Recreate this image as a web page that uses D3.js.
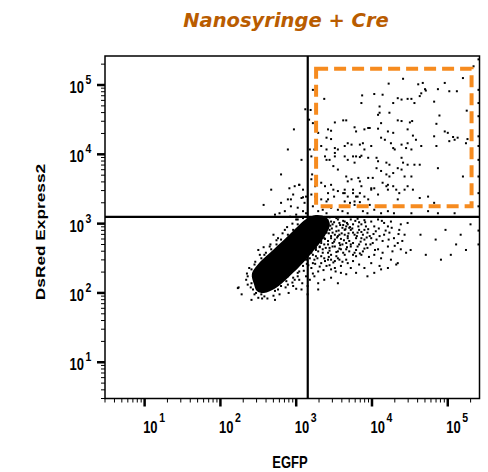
<!DOCTYPE html>
<html><head><meta charset="utf-8">
<script src="https://cdn.jsdelivr.net/npm/d3@7"></script>
<style>body{margin:0;background:#fff;} svg{display:block;}</style>
</head><body>
<svg id="chart" width="488" height="472"></svg>
<script>
// ---------------- data ----------------
const titleText = "Nanosyringe + Cre";
const xLabel = "EGFP";
const yLabel = "DsRed Express2";
const axisDomain = [3, 262144];
const decadeExponents = [1, 2, 3, 4, 5];
const quadGateX = 1420;            // EGFP threshold
const quadGateY = 1250;            // DsRed threshold
const gateBoxX = [1830, 206000];   // orange gate, EGFP range
const gateBoxY = [1780, 172000];   // orange gate, DsRed range

// cells, as [log10 EGFP, log10 DsRed]
const gateCellsLog10 = [
[4.22,5.02],[4.41,5.09],[4.61,5.01],[4.67,5.03],[4.70,4.94],[4.71,4.92],[4.87,4.94],[5.02,4.91],[5.12,4.91],[5.20,5.10],
[5.25,4.63],[3.87,4.85],[3.86,4.74],[4.03,4.87],[4.14,4.86],[4.10,4.69],[3.37,4.80],[4.28,4.74],[4.34,4.81],[4.39,4.79],
[4.47,4.80],[4.52,4.80],[4.56,4.74],[4.63,4.84],[4.65,4.88],[4.82,4.76],[4.96,5.03],[4.10,4.60],[4.08,4.57],[4.23,4.60],
[4.12,4.45],[4.34,4.49],[4.39,4.48],[4.50,4.46],[4.53,4.48],[4.85,4.44],[4.89,4.56],[3.51,4.46],[3.46,4.34],[3.42,4.36],
[3.62,4.49],[3.66,4.49],[3.77,4.39],[3.79,4.33],[3.90,4.36],[3.95,4.38],[3.97,4.38],[4.08,4.37],[4.21,4.33],[4.28,4.31],
[4.47,4.36],[4.54,4.27],[4.58,4.21],[4.96,4.33],[5.00,4.31],[5.07,4.25],[5.13,4.24],[5.26,4.22],[5.24,4.16],[3.40,4.24],
[3.46,4.22],[3.33,4.12],[3.40,4.07],[3.51,4.09],[3.51,4.02],[3.51,3.97],[3.55,4.07],[3.64,4.12],[3.68,4.16],[3.73,4.14],
[3.84,4.14],[3.88,4.16],[3.90,4.07],[3.99,4.12],[4.12,4.24],[4.17,4.21],[4.25,4.16],[4.28,4.09],[4.30,4.07],[4.39,4.14],
[4.47,4.16],[4.45,4.09],[4.52,4.07],[4.65,4.12],[4.82,4.26],[4.85,4.12],[5.02,4.19],[5.09,4.21],[3.38,3.97],[3.40,3.92],
[3.44,3.92],[3.64,3.97],[3.68,3.92],[3.75,3.97],[3.77,3.88],[3.79,3.97],[3.84,3.96],[3.86,3.98],[3.95,3.95],[4.06,3.95],
[4.08,3.90],[4.19,3.88],[4.23,3.85],[4.39,3.95],[4.41,3.88],[4.47,3.85],[4.56,3.85],[4.63,3.85],[4.87,3.80],[5.20,3.68],
[3.49,3.83],[3.55,3.78],[3.66,3.68],[3.73,3.64],[3.82,3.66],[3.84,3.61],[3.95,3.66],[4.01,3.66],[4.06,3.80],[4.12,3.76],
[4.19,3.71],[4.23,3.68],[4.28,3.73],[4.34,3.80],[4.39,3.78],[4.43,3.68],[4.52,3.68],[3.33,3.59],[3.38,3.54],[3.42,3.44],
[3.49,3.49],[3.55,3.47],[3.62,3.44],[3.64,3.49],[3.68,3.39],[3.75,3.44],[3.79,3.39],[3.84,3.44],[3.90,3.39],[3.95,3.35],
[3.99,3.49],[4.03,3.51],[4.14,3.59],[4.19,3.54],[4.21,3.56],[4.28,3.54],[4.32,3.49],[4.36,3.44],[4.43,3.49],[4.47,3.54],
[4.54,3.49],[4.63,3.37],[4.74,3.39],[4.82,3.30],[3.33,3.35],[3.40,3.32],[3.64,3.32],[3.71,3.30],[3.77,3.27],[3.84,3.31],
[3.97,3.27],[4.52,3.15],[4.74,3.18],[4.87,3.15],[5.09,3.15],[3.25,3.54],[3.25,3.39],[3.27,3.68],[3.20,3.64],[3.24,4.07],
[3.20,3.97],[3.19,4.64],[3.22,4.45],[3.29,4.31],[5.34,5.27]
];

const nearLineCellsLog10 = [
[2.91,3.51],[2.96,3.42],[2.98,3.54],[3.04,3.56],[3.09,3.49],[3.07,3.37],[3.11,3.30],[3.02,3.23],[2.93,3.25],[2.85,3.18],
[2.78,3.15],[2.72,3.13],[3.00,3.13],[3.09,3.18],[3.13,3.15],[2.89,3.35],[2.80,3.30],[3.13,3.39],[3.22,3.25],[3.29,3.18],
[3.35,3.20],[3.40,3.15],[3.46,3.23],[3.55,3.20],[3.61,3.18],[3.68,3.15],[3.42,3.35],[3.50,3.39],[3.64,3.44],[3.75,3.49],
[3.77,3.32],[3.81,3.39],[3.88,3.18],[3.94,3.15],[4.03,3.20],[4.12,3.15],[4.21,3.18],[4.29,3.15],[4.34,3.35],[3.99,3.51],
[3.86,3.54],[4.08,3.42],[4.21,3.49],[3.68,3.61],[3.46,3.56],[2.89,4.07],[2.97,4.36],[2.80,3.71],[3.04,3.56],[2.67,3.49],
[3.07,3.92],[3.12,4.65],[2.93,3.35],[2.57,3.27],[3.09,3.38],[3.18,4.07],[3.21,3.71],[3.17,4.50],[3.22,4.93],[3.20,3.42]
];

const tailCellsLog10 = [
[3.29,3.06],[3.37,3.07],[3.46,3.03],[3.55,3.06],[3.64,3.03],[3.72,3.06],[3.81,3.07],[3.90,3.05],[3.99,3.03],[4.08,3.06],
[4.16,3.01],[4.25,3.03],[4.38,2.99],[4.47,3.01],[3.68,2.99],[3.86,2.99],[4.03,2.96],[4.21,2.96],[3.26,2.91],[3.33,2.87],
[3.42,2.94],[3.46,2.82],[3.53,2.89],[3.57,2.84],[3.64,2.91],[3.68,2.82],[3.75,2.87],[3.79,2.79],[3.83,2.91],[3.88,2.84],
[3.94,2.87],[3.99,2.79],[4.05,2.89],[4.10,2.82],[4.16,2.84],[4.23,2.87],[4.29,2.79],[4.36,2.91],[4.43,2.84],[3.37,2.79],
[3.51,2.77],[3.59,2.78],[3.70,2.94],[3.90,2.77],[4.14,2.75],[4.34,2.72],[3.24,2.72],[3.31,2.67],[3.37,2.70],[3.44,2.65],
[3.51,2.67],[3.55,2.60],[3.61,2.70],[3.66,2.63],[3.72,2.67],[3.77,2.58],[3.83,2.70],[3.88,2.60],[3.94,2.65],[4.01,2.72],
[4.08,2.63],[4.14,2.58],[4.21,2.67],[4.27,2.60],[3.79,2.53],[3.64,2.55],[3.46,2.55],[3.29,2.60],[4.03,2.55],[4.38,2.63],
[4.45,2.58],[3.24,2.48],[3.33,2.43],[3.42,2.48],[3.51,2.46],[3.59,2.39],[3.68,2.43],[3.75,2.46],[3.83,2.41],[3.90,2.36],
[3.99,2.43],[4.10,2.39],[4.21,2.36],[3.29,2.31],[3.46,2.34],[3.66,2.27],[3.94,2.24],[3.37,2.19],[3.55,2.14],[3.79,2.29],
[4.03,2.29],[4.34,2.43],[4.64,2.84],[4.84,2.77],[4.97,2.91],[5.11,2.70],[5.24,2.62],[5.30,2.99],[4.91,2.48],[4.51,2.62],
[4.71,2.55],[5.17,2.84],[4.32,2.41],[4.12,2.34],[5.04,2.55],
[3.22,3.03],[3.31,3.01],[3.40,3.02],[3.48,2.99],[3.57,3.01],[3.66,2.96],[3.75,2.99],[3.83,3.02],[3.92,2.96],[3.26,2.96],
[3.35,2.96],[3.44,2.91],[3.53,2.96],[3.61,2.94],[3.72,2.91],[3.81,2.87],[3.90,2.91],[3.22,2.84],[3.30,2.82],[3.40,2.87],
[3.48,2.87],[3.55,2.82],[3.64,2.84],[3.70,2.75],[3.77,2.84],[3.86,2.79],[3.97,2.82],[3.24,2.77],[3.33,2.75],[3.42,2.75],
[3.48,2.72],[3.57,2.72],[3.66,2.72],[3.75,2.72],[3.81,2.67],[3.92,2.70],[3.26,2.65],[3.35,2.63],[3.42,2.58],[3.53,2.53],
[3.59,2.63],[3.70,2.60],[3.75,2.55],[3.86,2.55],[3.20,2.58],[3.26,2.53],[3.37,2.50],[3.46,2.48],[3.57,2.48],[3.66,2.48],
[3.40,2.39],[3.51,2.36],[3.59,2.29],[3.72,2.36]
];

const tailDenseCellsLog10 = [
[3.20,3.05],[3.25,3.00],[3.28,3.08],[3.32,3.04],[3.36,2.98],[3.41,3.05],[3.45,2.97],[3.50,3.02],[3.53,3.08],[3.58,2.98],
[3.62,3.04],[3.67,3.01],[3.71,2.95],[3.19,2.93],[3.23,2.88],[3.28,2.95],[3.31,2.90],[3.35,2.85],[3.39,2.92],[3.43,2.86],
[3.47,2.93],[3.51,2.84],[3.56,2.90],[3.60,2.86],[3.65,2.92],[3.69,2.86],[3.74,2.93],[3.20,2.80],[3.25,2.76],[3.29,2.82],
[3.33,2.72],[3.38,2.78],[3.42,2.70],[3.46,2.79],[3.50,2.74],[3.54,2.80],[3.58,2.69],[3.63,2.76],[3.68,2.79],[3.72,2.70],
[3.21,2.68],[3.26,2.62],[3.31,2.66],[3.35,2.58],[3.39,2.65],[3.44,2.61],[3.48,2.67],[3.53,2.59],[3.57,2.64],[3.62,2.58],
[3.67,2.66],[3.22,2.55],[3.28,2.50],[3.33,2.53],[3.38,2.46],[3.43,2.52],[3.49,2.44],[3.55,2.50],[3.61,2.45],[3.25,2.42],
[3.31,2.38],[3.36,2.33],[3.44,2.40],[3.52,2.31],[3.78,3.04],[3.82,2.96],[3.86,2.88],[3.91,3.02],[3.95,2.92],[3.80,2.82],
[3.85,2.74],[3.93,2.80],[3.98,2.70],[4.02,2.85],[4.06,2.77],[3.79,2.62],[3.84,2.57],[3.90,2.64],[3.96,2.52],[4.04,2.62],
[4.09,2.93],[4.13,3.04],[4.18,2.90],[4.22,2.77],[4.26,2.94],[4.30,2.68],[4.35,2.85],[4.40,2.75],[4.12,2.50],[4.25,2.48],
[3.17,2.88],[3.18,2.76],[3.17,2.64],[3.18,2.50],[3.16,2.40],[3.24,3.09],[3.34,3.09],[3.44,3.09],[3.56,3.09],[3.62,2.98]
];

const haloCellsLog10 = [
[2.23,2.07],[2.36,2.24],[2.41,2.14],[2.43,2.05],[2.47,2.00],[2.54,1.98],[2.58,1.95],[2.61,2.05],[2.72,2.03],[2.80,2.10],
[2.89,2.12],[2.98,2.19],[3.02,2.29],[3.09,2.39],[3.13,2.48],[3.20,2.36],[3.24,2.24],[3.29,2.14],[3.15,2.10],[3.07,2.05],
[2.89,2.24],[2.76,2.19],[2.41,2.34],[2.45,2.41],[2.54,2.50],[2.58,2.55],[2.67,2.63],[2.74,2.70],[2.80,2.77],[2.89,2.84],
[2.96,2.91],[3.02,2.99],[2.76,2.79],[2.65,2.67],[2.85,2.91],[3.00,3.06],[3.09,3.08],[2.76,2.05],[2.87,2.17],[2.96,2.22],
[3.04,2.31],[3.13,2.24],[3.22,2.43],[3.18,2.19],[3.04,2.19],[2.96,2.10],[3.29,2.05],[3.46,2.22],[3.15,1.98],[2.72,1.90],
[2.50,1.93],[2.34,2.19],[2.28,1.98],[2.36,2.12],[2.41,1.90],[2.24,2.08],
[2.38,2.36],[2.46,2.45],[2.52,2.55],[2.60,2.58],[2.66,2.70],[2.74,2.76],[2.82,2.86],[2.88,2.95],[2.95,3.00],[3.02,3.06],
[2.50,2.62],[2.70,2.84],[2.92,3.10],[2.35,2.28],[2.57,2.66],[2.62,1.92],[2.78,1.98],[2.86,2.08],[2.95,2.15],[3.02,2.24],
[3.10,2.32],[3.14,2.42],[2.70,1.96],[2.90,2.00],[3.08,2.14],[2.55,1.92],[2.45,1.98],[2.40,2.08],[3.00,2.06],[3.22,2.28]
];

const edgeCellsLog10 = [
[5.415,5.37],[5.415,4.93],[5.415,4.74],[5.415,4.55],[5.415,4.26],[5.415,4.12],[5.415,3.92],[5.415,3.68],[5.415,3.44],[5.415,3.25],[5.415,2.90],[5.415,2.70]
];

// outline of the dense (saturated) core of the population
const coreOutlineLog10 = [
[2.442,2.128],[2.415,2.272],[2.521,2.445],[2.705,2.632],[2.890,2.820],[3.022,2.964],[3.127,3.065],[3.259,3.123],
[3.391,3.094],[3.444,2.993],[3.378,2.820],[3.259,2.647],[3.101,2.445],[2.916,2.243],[2.732,2.070],[2.573,1.998],
[2.481,2.027]
];

// ---------------- drawing ----------------
const svg = d3.select('#chart');
const plot = {left: 105, right: 479.5, top: 56, bottom: 398.5};
const x = d3.scaleLog().domain(axisDomain).range([plot.left, plot.right]);
const y = d3.scaleLog().domain(axisDomain).range([plot.bottom, plot.top]);
const FONT = "'Liberation Sans', Arial, sans-serif";
const SY = 1.25; // vertical stretch of the original picture's text

svg.append('defs').append('clipPath').attr('id', 'clip')
  .append('rect').attr('x', plot.left).attr('y', plot.top)
  .attr('width', plot.right - plot.left).attr('height', plot.bottom - plot.top);

const allCells = [].concat(gateCellsLog10, nearLineCellsLog10, tailCellsLog10, tailDenseCellsLog10, haloCellsLog10, edgeCellsLog10);
const gData = svg.append('g').attr('clip-path', 'url(#clip)');

gData.append('path')
  .datum(coreOutlineLog10)
  .attr('d', d3.line().x(d => x(10 ** d[0])).y(d => y(10 ** d[1])).curve(d3.curveCatmullRomClosed.alpha(0.5)))
  .attr('fill', '#000');

gData.selectAll('rect.cell').data(allCells).join('rect')
  .attr('class', 'cell')
  .attr('x', d => Math.min(x(10 ** d[0]), plot.right - 1) - 1)
  .attr('y', d => y(10 ** d[1]) - 1)
  .attr('width', 2).attr('height', 2).attr('fill', '#000');

// quadrant lines
svg.append('line').attr('x1', x(quadGateX)).attr('x2', x(quadGateX))
  .attr('y1', plot.top).attr('y2', plot.bottom).attr('stroke', '#000').attr('stroke-width', 2.2);
svg.append('line').attr('x1', plot.left).attr('x2', plot.right)
  .attr('y1', y(quadGateY)).attr('y2', y(quadGateY)).attr('stroke', '#000').attr('stroke-width', 2.2);

// orange gate
svg.append('rect')
  .attr('x', x(gateBoxX[0])).attr('y', y(gateBoxY[1]))
  .attr('width', x(gateBoxX[1]) - x(gateBoxX[0]))
  .attr('height', y(gateBoxY[0]) - y(gateBoxY[1]))
  .attr('fill', 'none').attr('stroke', '#f68b1f').attr('stroke-width', 4)
  .attr('stroke-dasharray', '12 6');

// frame
svg.append('rect').attr('x', plot.left).attr('y', plot.top)
  .attr('width', plot.right - plot.left).attr('height', plot.bottom - plot.top)
  .attr('fill', 'none').attr('stroke', '#000').attr('stroke-width', 1.5);

// ticks
const tickVals = [];
for (let n = 0; n <= 5; n++) for (let k = 1; k <= 9; k++) {
  const v = k * 10 ** n;
  if (v >= axisDomain[0] && v <= axisDomain[1]) tickVals.push({v, major: k === 1});
}
svg.append('g').selectAll('line').data(tickVals).join('line')
  .attr('x1', d => x(d.v)).attr('x2', d => x(d.v))
  .attr('y1', plot.bottom).attr('y2', d => plot.bottom + (d.major ? 8 : 4))
  .attr('stroke', '#000').attr('stroke-width', d => d.major ? 2.5 : 1);
svg.append('g').selectAll('line').data(tickVals).join('line')
  .attr('y1', d => y(d.v)).attr('y2', d => y(d.v))
  .attr('x1', plot.left).attr('x2', d => plot.left - (d.major ? 8 : 4))
  .attr('stroke', '#000').attr('stroke-width', d => d.major ? 2.5 : 1);

function txt(g, tx, ty, s, size, anchor, sy, extra) {
  return g.append('text')
    .attr('transform', `translate(${tx},${ty}) scale(1,${sy})` + (extra || ''))
    .attr('text-anchor', anchor).attr('font-family', FONT).attr('font-weight', 'bold')
    .attr('font-size', size).attr('fill', '#000').text(s);
}

const gLab = svg.append('g');
decadeExponents.forEach(e => {
  const tx = x(10 ** e);
  txt(gLab, tx - 1.5, 433, '10', 13, 'start', SY);
  txt(gLab, tx + 14.5, 422, String(e), 10.5, 'start', SY);
  const ty = y(10 ** e);
  txt(gLab, 84, ty + 8, '10', 13, 'end', SY);
  txt(gLab, 85.5, ty - 1, String(e), 10.5, 'start', SY);
});

txt(svg, 290, 468, xLabel, 13, 'middle', SY);
txt(svg, 44.5, 232, yLabel, 13, 'middle', 1.33, ' rotate(-90)');

svg.append('text')
  .attr('x', 286).attr('y', 27)
  .attr('text-anchor', 'middle')
  .attr('font-family', "'DejaVu Sans', sans-serif")
  .attr('font-weight', 'bold').attr('font-style', 'italic')
  .attr('font-size', 19.5).attr('fill', '#b95c00')
  .text(titleText);
</script>
</body></html>
